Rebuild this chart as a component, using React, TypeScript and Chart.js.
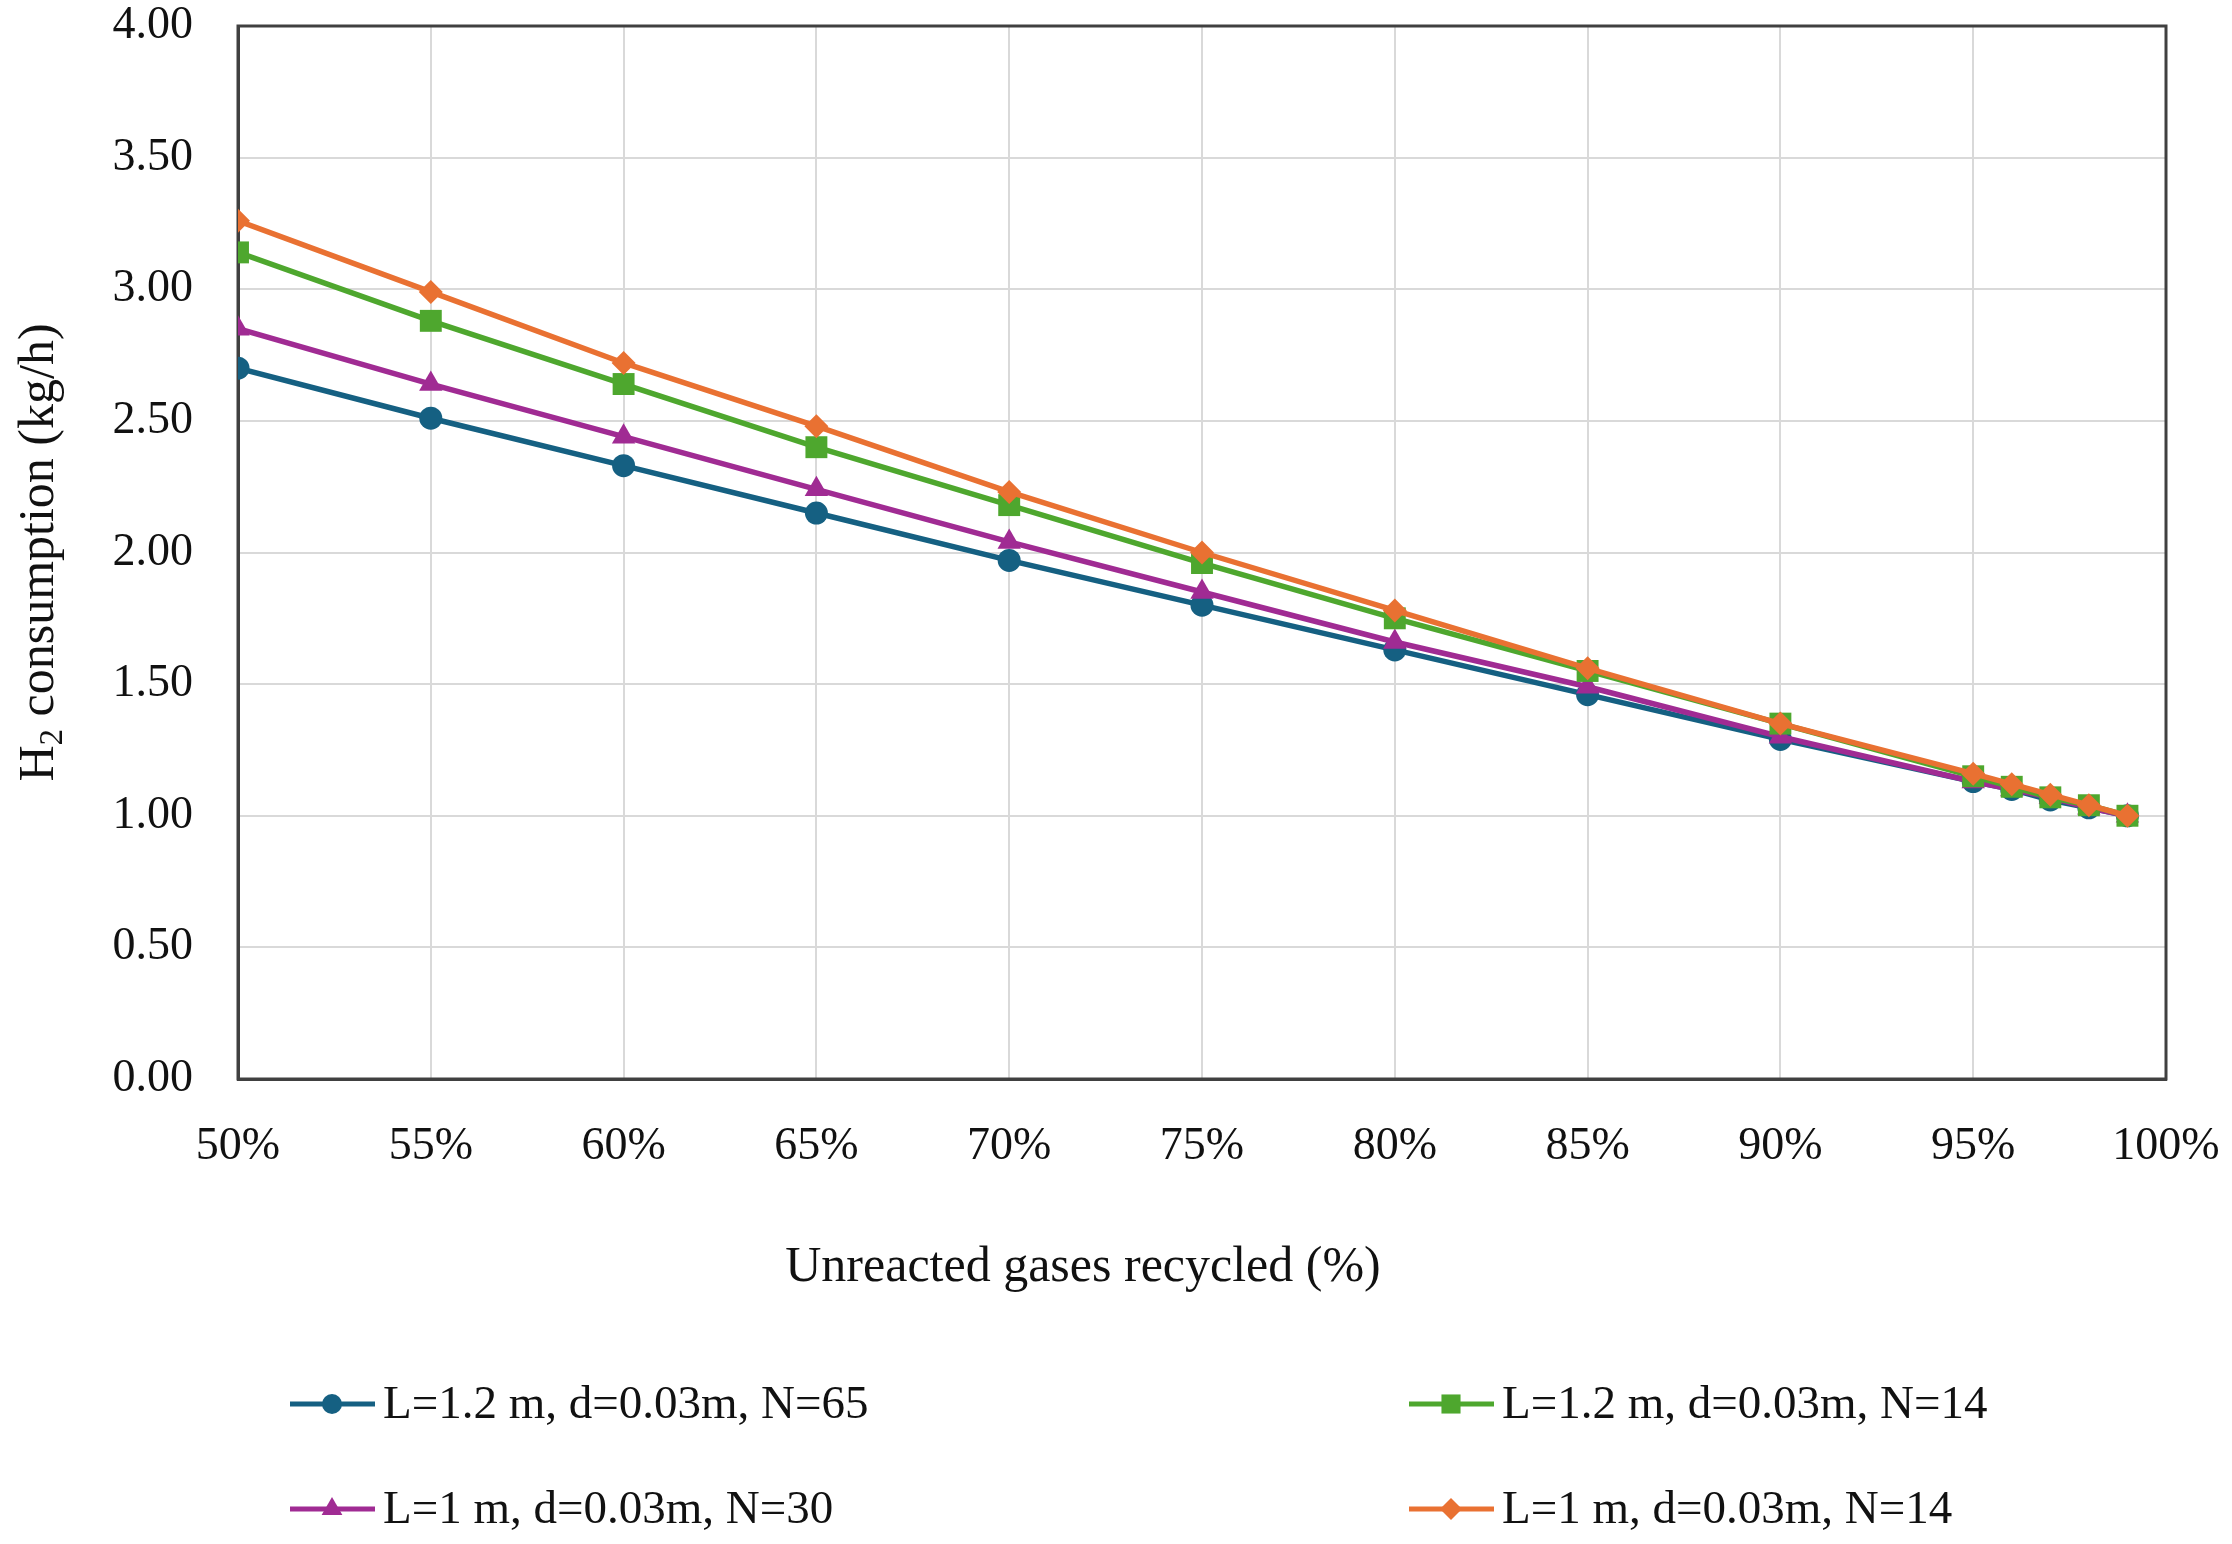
import React, { useEffect, useRef } from "react";
import { Chart, registerables } from "chart.js";

Chart.register(...registerables);

// ---- data ----
const recycledPct = [50, 55, 60, 65, 70, 75, 80, 85, 90, 95, 96, 97, 98, 99];
const l12N65 = [2.70, 2.51, 2.33, 2.15, 1.97, 1.80, 1.63, 1.46, 1.29, 1.13, 1.10, 1.06, 1.03, 1.00];
const l12N14 = [3.14, 2.88, 2.64, 2.40, 2.18, 1.96, 1.75, 1.55, 1.35, 1.15, 1.11, 1.07, 1.04, 1.00];
const l1N30 = [2.85, 2.64, 2.44, 2.24, 2.04, 1.85, 1.66, 1.49, 1.30, 1.13, 1.10, 1.07, 1.03, 1.00];
const l1N14 = [3.26, 2.99, 2.72, 2.48, 2.23, 2.00, 1.78, 1.56, 1.35, 1.16, 1.12, 1.08, 1.04, 1.00];

const seriesNames = [
  "L=1.2 m, d=0.03m, N=65",
  "L=1.2 m, d=0.03m, N=14",
  "L=1 m, d=0.03m, N=30",
  "L=1 m, d=0.03m, N=14",
];
const seriesColors = ["#156082", "#4EA72E", "#A02B93", "#E97132"];
const seriesMarkers = ["circle", "rect", "triangle", "rectRot"];
const seriesRadius = [11.5, 15.5, 13.5, 12];

const xTitle = "Unreacted gases recycled (%)";
const yTitleMain = "H";
const yTitleSub = "2";
const yTitleRest = " consumption (kg/h)";

const FONT = "'Liberation Serif', 'Times New Roman', serif";
const W = 2232;
const H = 1544;
const PLOT_RIGHT = 2166;
const PLOT_BOTTOM = 1079;
const XSCALE_BOTTOM = 1300;

function drawMarker(ctx: CanvasRenderingContext2D, style: string, x: number, y: number, r: number, color: string) {
  ctx.save();
  ctx.fillStyle = color;
  ctx.beginPath();
  if (style === "circle") {
    ctx.arc(x, y, r, 0, Math.PI * 2);
  } else if (style === "rect") {
    const s = Math.SQRT1_2 * r;
    ctx.rect(x - s, y - s, 2 * s, 2 * s);
  } else if (style === "triangle") {
    for (let i = 0; i < 3; i++) {
      const a = (i * 2 * Math.PI) / 3;
      const px = x + Math.sin(a) * r;
      const py = y - Math.cos(a) * r;
      if (i === 0) ctx.moveTo(px, py);
      else ctx.lineTo(px, py);
    }
    ctx.closePath();
  } else {
    ctx.moveTo(x, y - r);
    ctx.lineTo(x + r, y);
    ctx.lineTo(x, y + r);
    ctx.lineTo(x - r, y);
    ctx.closePath();
  }
  ctx.fill();
  ctx.restore();
}

const customPlugin = {
  id: "customDecor",
  beforeDatasetsDraw(chart: any) {
    const { ctx, chartArea: a } = chart;
    ctx.save();
    ctx.strokeStyle = "#404040";
    ctx.lineWidth = 3;
    ctx.strokeRect(a.left, a.top, a.right - a.left, a.bottom - a.top);
    ctx.restore();
  },
  afterDraw(chart: any) {
    const { ctx, chartArea: a } = chart;
    ctx.save();
    ctx.fillStyle = "#111111";
    // x title
    ctx.font = `50px ${FONT}`;
    ctx.textAlign = "center";
    ctx.textBaseline = "middle";
    ctx.fillText(xTitle, 1083, 1268);

    // y title (rotated, with subscript)
    const cy = (a.top + a.bottom) / 2;
    ctx.translate(36, cy);
    ctx.rotate(-Math.PI / 2);
    ctx.font = `50px ${FONT}`;
    const wH = ctx.measureText(yTitleMain).width;
    const wR = ctx.measureText(yTitleRest).width;
    ctx.font = `33px ${FONT}`;
    const wS = ctx.measureText(yTitleSub).width;
    const total = wH + wS + wR;
    let x0 = -total / 2;
    ctx.textAlign = "left";
    ctx.textBaseline = "alphabetic";
    const base = 17;
    ctx.font = `50px ${FONT}`;
    ctx.fillText(yTitleMain, x0, base);
    x0 += wH;
    ctx.font = `33px ${FONT}`;
    ctx.fillText(yTitleSub, x0, base + 9);
    x0 += wS;
    ctx.font = `50px ${FONT}`;
    ctx.fillText(yTitleRest, x0, base);
    ctx.restore();

    // legend
    const cols = [290, 1409];
    const rows = [1404, 1509];
    const legendRadius = [10, 13.5, 12, 11];
    ctx.save();
    ctx.font = `47px ${FONT}`;
    ctx.textAlign = "left";
    ctx.textBaseline = "middle";
    seriesNames.forEach((name, i) => {
      const lx = cols[i % 2];
      const ly = rows[Math.floor(i / 2)];
      ctx.strokeStyle = seriesColors[i];
      ctx.lineWidth = 5;
      ctx.beginPath();
      ctx.moveTo(lx, ly);
      ctx.lineTo(lx + 85, ly);
      ctx.stroke();
      drawMarker(ctx, seriesMarkers[i], lx + 42, ly, legendRadius[i], seriesColors[i]);
      ctx.fillStyle = "#111111";
      ctx.fillText(name, lx + 93, ly + 2);
    });
    ctx.restore();
  },
};

export default function App() {
  const ref = useRef<HTMLCanvasElement | null>(null);

  useEffect(() => {
    if (!ref.current) return;
    const values = [l12N65, l12N14, l1N30, l1N14];
    // draw order: orange on top, then green, purple, blue
    const drawOrder = [3, 1, 2, 0];
    const datasets = drawOrder.map((i, k) => ({
      label: seriesNames[i],
      data: recycledPct.map((x, j) => ({ x, y: values[i][j] })),
      borderColor: seriesColors[i],
      backgroundColor: seriesColors[i],
      pointBackgroundColor: seriesColors[i],
      pointBorderColor: seriesColors[i],
      pointBorderWidth: 0,
      pointStyle: seriesMarkers[i] as any,
      pointRadius: seriesRadius[i],
      borderWidth: 5.5,
      tension: 0,
      fill: false,
      order: k,
    }));

    const chart = new Chart(ref.current, {
      type: "line",
      data: { datasets },
      options: {
        animation: false,
        responsive: false,
        devicePixelRatio: 1,
        layout: { padding: { left: 0, right: W - PLOT_RIGHT, top: 26, bottom: H - XSCALE_BOTTOM } },
        plugins: { legend: { display: false }, tooltip: { enabled: false } },
        scales: {
          x: {
            type: "linear",
            min: 50,
            max: 100,
            ticks: {
              stepSize: 5,
              padding: 40,
              color: "#111111",
              font: { family: FONT, size: 46 },
              callback: (v: any) => `${Math.round(Number(v))}%`,
            },
            grid: { color: "#D9D9D9", lineWidth: 2, drawTicks: false },
            border: { display: true, color: "#404040", width: 3 },
            afterFit: (s: any) => {
              s.height = XSCALE_BOTTOM - PLOT_BOTTOM;
              s.paddingLeft = 0;
              s.paddingRight = 0;
            },
          },
          y: {
            type: "linear",
            min: 0,
            max: 4,
            ticks: {
              stepSize: 0.5,
              padding: 45,
              color: "#111111",
              font: { family: FONT, size: 46 },
              callback: (v: any) => Number(v).toFixed(2),
            },
            grid: { color: "#D9D9D9", lineWidth: 2, drawTicks: false },
            border: { display: true, color: "#404040", width: 3 },
            afterFit: (s: any) => {
              s.width = 238;
              s.paddingTop = 0;
              s.paddingBottom = 0;
            },
          },
        },
      },
      plugins: [customPlugin],
    });
    return () => chart.destroy();
  }, []);

  return (
    <div style={{ position: "absolute", left: 0, top: 0, width: W, height: H, background: "#fff" }}>
      <canvas ref={ref} width={W} height={H} style={{ width: W, height: H, display: "block" }} />
    </div>
  );
}
